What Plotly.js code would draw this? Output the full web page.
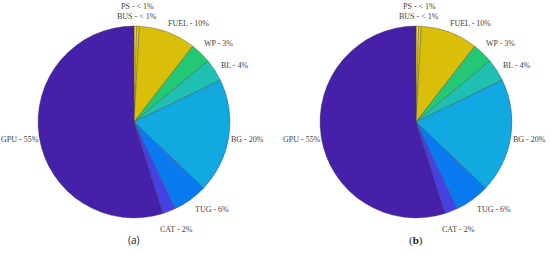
<!DOCTYPE html>
<html><head><meta charset="utf-8">
<script src="https://cdn.plot.ly/plotly-3.0.1.min.js"></script>
<style>html,body{margin:0;padding:0;background:#fff}#c{width:550px;height:255px}</style>
</head><body><div id="c"></div>
<script>
var categories = ["PS", "BUS", "FUEL", "WP", "BL", "BG", "TUG", "CAT", "GPU"];
var shareLabels = ["< 1%", "< 1%", "10%", "3%", "4%", "20%", "6%", "2%", "55%"];
var valuesA = [0.45, 0.45, 9.6, 3.5, 3.8, 19.3, 5.9, 2.1, 54.9];
var valuesB = [0.45, 0.45, 9.6, 3.5, 3.8, 19.3, 5.9, 2.1, 54.9];
var sliceColors = ["#f6d81c", "#eccb12", "#d9be0a", "#22c873", "#1fbfb2", "#12a8e0", "#0a7af0", "#4541e6", "#4620a8"];
var panelCaptions = ["(a)", "(b)"];

var W = 550, H = 255;
var domY = [0.1451, 0.898];
var domA = [0.0691, 0.4182], domB = [0.5818, 0.9309];
// label nudges (px) for labels moved apart to avoid overlap
var nudgeX = {PS: 2, BUS: -2, FUEL: 14, WP: 4, BL: 4, TUG: 11};
var nudgeY = {PS: 0, BUS: -10, FUEL: -9, WP: -4, BL: -6, TUG: 6};

var texts = categories.map(function(c, i){ return c + " - " + shareLabels[i]; });
function pie(vals, dx){
  return {
    type: "pie", values: vals, labels: categories,
    sort: false, direction: "clockwise", rotation: 0,
    textinfo: "none",
    marker: {colors: sliceColors, line: {color: "rgba(50,50,60,0.55)", width: 0.6}},
    domain: {x: dx, y: domY},
    showlegend: false, hoverinfo: "label+percent"
  };
}
function labelAnns(vals, dx){
  var total = vals.reduce(function(a,b){return a+b;}, 0);
  var cx = (dx[0]+dx[1])/2*W, cy = H - (domY[0]+domY[1])/2*H;
  var r = Math.min((dx[1]-dx[0])*W, (domY[1]-domY[0])*H)/2;
  var cum = 0, out = [];
  vals.forEach(function(v, i){
    var mid = (cum + v/2)/total*2*Math.PI; cum += v;
    var px = cx + 1.2*r*Math.sin(mid) + (nudgeX[categories[i]]||0);
    var py = cy - 1.2*r*Math.cos(mid) - (nudgeY[categories[i]]||0);
    out.push({text: texts[i], x: px/W, y: 1 - py/H, xref: "paper", yref: "paper",
      xanchor: "center", yanchor: "middle", showarrow: false,
      font: {family: "Liberation Serif, Times New Roman, serif", size: 8, color: "#444"}});
  });
  return out;
}
var data = [pie(valuesA, domA), pie(valuesB, domB)];
var anns = labelAnns(valuesA, domA).concat(labelAnns(valuesB, domB));
anns.push({text: panelCaptions[0], x: (domA[0]+domA[1])/2, y: 15/H, xref: "paper", yref: "paper", showarrow: false,
  xanchor: "center", yanchor: "middle", font: {family: "Open Sans, DejaVu Sans, sans-serif", size: 10, color: "#222"}});
anns.push({text: "(<b>b</b>)", x: (domB[0]+domB[1])/2, y: 15/H, xref: "paper", yref: "paper", showarrow: false,
  xanchor: "center", yanchor: "middle", font: {family: "Liberation Serif, serif", size: 11, color: "#222"}});
var layout = {
  width: W, height: H, margin: {l:0, r:0, t:0, b:0},
  paper_bgcolor: "#fff", plot_bgcolor: "#fff", showlegend: false,
  annotations: anns
};
Plotly.newPlot("c", data, layout, {displayModeBar: false, staticPlot: true});
</script></body></html>
